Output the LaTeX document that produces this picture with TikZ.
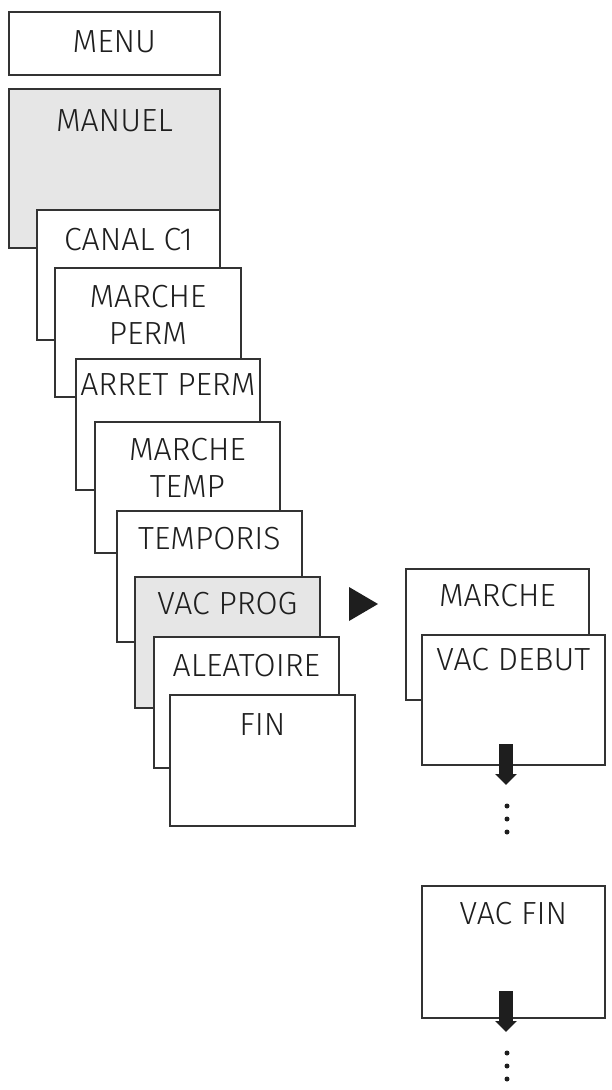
\documentclass[tikz,border=0pt]{standalone}
\usepackage{fontspec}
\setmainfont{Fira Sans}[UprightFont=* Light]
\usetikzlibrary{arrows.meta}
\definecolor{boxline}{HTML}{333333}
\definecolor{boxgray}{HTML}{E6E6E6}
\definecolor{txt}{HTML}{1E1E1E}
\begin{document}
\begin{tikzpicture}[x=1pt,y=-1pt,
  menubox/.style={draw=boxline, line width=1.8pt, fill=white, rectangle, anchor=north west, inner sep=0pt},
  graybox/.style={menubox, fill=boxgray},
  lbl/.style={font=\fontsize{32}{37}\selectfont, text=txt, align=center, inner sep=0pt, anchor=center},
  dotmark/.style={circle, fill=txt, inner sep=0pt, minimum size=5pt},
  bigarrow/.style={draw=txt, line width=14pt, -{Triangle[width=21pt,length=11pt]}},
  ]
\useasboundingbox (0,0) rectangle (612,1090);
% left column
\node[menubox, minimum width=211pt, minimum height=63pt] (menu) at (8,11) {};
\node[lbl] (menut) at ([yshift=-31pt]menu.north) {MENU};
\node[graybox, minimum width=211pt, minimum height=159pt] (manuel) at (8,88) {};
\node[lbl] (manuelt) at ([yshift=-33pt]manuel.north) {MANUEL};
\node[menubox, minimum width=183pt, minimum height=130pt] (canal) at (36,209) {};
\node[lbl] (canalt) at ([yshift=-30.5pt]canal.north) {CANAL C1};
\node[menubox, minimum width=186pt, minimum height=129pt] (mperm) at (54,267) {};
\node[lbl] (mpermt) at ([yshift=-47.5pt]mperm.north) {MARCHE\\PERM};
\node[menubox, minimum width=184pt, minimum height=131pt] (aperm) at (75,358) {};
\node[lbl] (apermt) at ([yshift=-26.5pt]aperm.north) {ARRET PERM};
\node[menubox, minimum width=185pt, minimum height=131pt] (mtemp) at (94,421) {};
\node[lbl] (mtempt) at ([yshift=-47pt]mtemp.north) {MARCHE\\TEMP};
\node[menubox, minimum width=185pt, minimum height=131pt] (tempo) at (116,510) {};
\node[lbl] (tempot) at ([yshift=-28.5pt]tempo.north) {TEMPORIS};
\node[graybox, minimum width=185pt, minimum height=131pt] (vacprog) at (134,576) {};
\node[lbl] (vacprogt) at ([yshift=-27.5pt]vacprog.north) {VAC PROG};
\node[menubox, minimum width=185pt, minimum height=131pt] (alea) at (153,636) {};
\node[lbl] (aleat) at ([yshift=-30pt]alea.north) {ALEATOIRE};
\node[menubox, minimum width=185pt, minimum height=131pt] (fin) at (169,694) {};
\node[lbl] (fint) at ([yshift=-30.5pt]fin.north) {FIN};
% pointer triangle
\fill[txt] (349,587) -- (378,604) -- (349,621) -- cycle;
% right column
\node[menubox, minimum width=183pt, minimum height=131pt] (marche) at (405,568) {};
\node[lbl] (marchet) at ([yshift=-28pt]marche.north) {MARCHE};
\node[menubox, minimum width=183pt, minimum height=130pt] (vacdeb) at (421,634) {};
\node[lbl] (vacdebt) at ([yshift=-26pt]vacdeb.north) {VAC DEBUT};
\coordinate (a1s) at (506,744);
\coordinate (a1e) at (506,785);
\draw[bigarrow] (a1s) -- (a1e);
\node[dotmark] (d11) at (507,806) {};
\node[dotmark] (d12) at (507,819) {};
\node[dotmark] (d13) at (507,832) {};
\node[menubox, minimum width=183pt, minimum height=132pt] (vacfin) at (421,885) {};
\node[lbl] (vacfint) at ([yshift=-29pt]vacfin.north) {VAC FIN};
\coordinate (a2s) at (506,991);
\coordinate (a2e) at (506,1032);
\draw[bigarrow] (a2s) -- (a2e);
\node[dotmark] (d21) at (507,1053) {};
\node[dotmark] (d22) at (507,1066) {};
\node[dotmark] (d23) at (507,1079) {};
\end{tikzpicture}
\end{document}
